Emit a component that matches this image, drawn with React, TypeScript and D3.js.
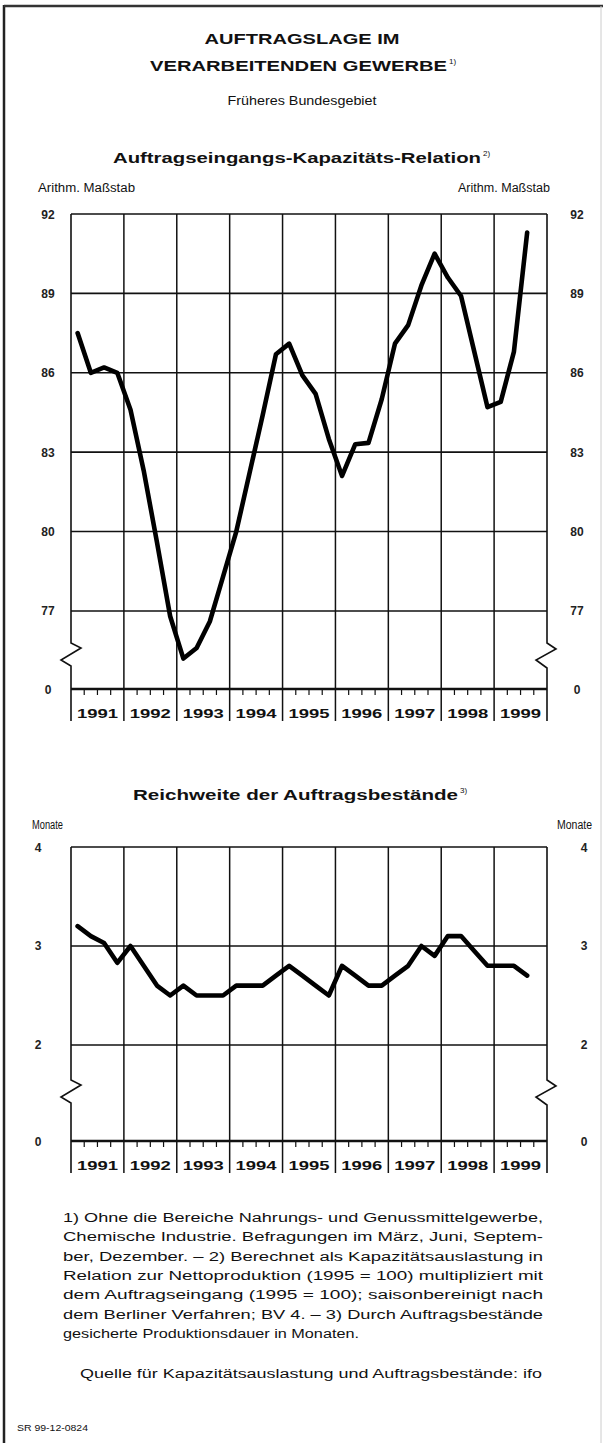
import * as d3 from "d3";

// quarterly values, 1991 Q1 .. 1999 Q3
const years = [1991, 1992, 1993, 1994, 1995, 1996, 1997, 1998, 1999];
const yearLabels = years.map(String);

const relation = [
  87.5, 86.0, 86.2, 86.0,
  84.6, 82.3, 79.6, 76.8,
  75.2, 75.6, 76.6, 78.3,
  80.0, 82.2, 84.4, 86.7,
  87.1, 85.9, 85.2, 83.5,
  82.1, 83.3, 83.35, 85.0,
  87.1, 87.8, 89.3, 90.5,
  89.6, 88.9, 86.8, 84.7,
  84.9, 86.8, 91.3,
];

const reichweite = [
  3.2, 3.1, 3.03, 2.83,
  3.0, 2.8, 2.6, 2.5,
  2.6, 2.5, 2.5, 2.5,
  2.6, 2.6, 2.6, 2.7,
  2.8, 2.7, 2.6, 2.5,
  2.8, 2.7, 2.6, 2.6,
  2.7, 2.8, 3.0, 2.9,
  3.1, 3.1, 2.95, 2.8,
  2.8, 2.8, 2.7,
];

const relationTicks = [92, 89, 86, 83, 80, 77];
const reichweiteTicks = [4, 3, 2];

const footnoteLines = [
  "1) Ohne die Bereiche Nahrungs- und Genussmittelgewerbe,",
  "Chemische Industrie. Befragungen im März, Juni, Septem-",
  "ber, Dezember. – 2) Berechnet als Kapazitätsauslastung in",
  "Relation zur Nettoproduktion (1995 = 100) multipliziert mit",
  "dem Auftragseingang (1995 = 100); saisonbereinigt nach",
  "dem Berliner Verfahren; BV 4. – 3) Durch Auftragsbestände",
  "gesicherte Produktionsdauer in Monaten.",
];

const FONT = "'Liberation Sans', Arial, Helvetica, sans-serif";
const INK = "#111";

const x = d3.scaleLinear().domain([1991, 2000]).range([71, 547]);
const qx = (i: number) => x(1991 + (i + 0.5) / 4);

interface PanelProps {
  values: number[];
  ticks: number[];
  y: d3.ScaleLinear<number, number>;
  breakY: number;
  labelLeftX: number;
  labelRightX: number;
}

const Panel = ({ values, ticks, y, breakY, labelLeftX, labelRightX }: PanelProps) => {
  const [x0, x1] = x.range();
  const axisY = y.range()[0];
  const topY = y.range()[1];
  const extY = axisY + 32;

  const line = d3
    .line<number>()
    .x((_, i) => qx(i))
    .y((d) => y(d));

  const leftBorder = `M${x0},${topY} L${x0},${breakY} L${x0 + 10},${breakY + 5} L${x0 - 10},${breakY + 17} L${x0},${breakY + 23} L${x0},${extY}`;
  const rightBorder = `M${x1},${topY} L${x1},${breakY} L${x1 + 9},${breakY + 6} L${x1 - 11},${breakY + 17} L${x1},${breakY + 25} L${x1},${extY}`;

  return (
    <g>
      {ticks.map((t) => (
        <line key={t} x1={x0} x2={x1} y1={y(t)} y2={y(t)} stroke={INK} strokeWidth={1.6} />
      ))}
      {years.slice(1).map((yr) => (
        <line key={yr} x1={x(yr)} x2={x(yr)} y1={topY} y2={extY} stroke={INK} strokeWidth={1.5} />
      ))}
      {years.map((yr) =>
        [1, 2, 3].map((q) => (
          <line
            key={`${yr}-${q}`}
            x1={x(yr + q / 4)}
            x2={x(yr + q / 4)}
            y1={axisY}
            y2={axisY + 6}
            stroke={INK}
            strokeWidth={1.2}
          />
        ))
      )}
      <path d={leftBorder} fill="none" stroke={INK} strokeWidth={1.6} />
      <path d={rightBorder} fill="none" stroke={INK} strokeWidth={1.6} />
      <line x1={x0} x2={x1} y1={axisY} y2={axisY} stroke={INK} strokeWidth={2.6} />
      {years.map((yr, i) => (
        <text
          key={yr}
          x={x(yr + 0.5)}
          y={axisY + 29}
          textAnchor="middle"
          fontFamily={FONT}
          fontWeight="bold"
          fontSize={13}
          textLength={41}
          lengthAdjust="spacingAndGlyphs"
          fill={INK}
        >
          {yearLabels[i]}
        </text>
      ))}
      {[...ticks, "0"].map((t) => {
        const ty = t === "0" ? axisY : y(t as number);
        return (
          <g key={String(t)} fontFamily={FONT} fontSize={12} fontWeight="bold" fill="#222">
            <text x={labelLeftX} y={ty + 4.5} textAnchor="middle">
              {String(t)}
            </text>
            <text x={labelRightX} y={ty + 4.5} textAnchor="middle">
              {String(t)}
            </text>
          </g>
        );
      })}
      <path
        d={line(values) ?? ""}
        fill="none"
        stroke="#000"
        strokeWidth={4.6}
        strokeLinejoin="round"
        strokeLinecap="round"
      />
    </g>
  );
};

const App = () => {
  const yTop = d3.scaleLinear().domain([74.05, 92]).range([689, 214]);
  const yBottom = d3.scaleLinear().domain([1.03, 4]).range([1141, 847]);

  return (
    <svg
      width={607}
      height={1443}
      style={{ position: "absolute", left: 0, top: 0, background: "#fff" }}
    >
      <rect x={0} y={0} width={607} height={1443} fill="#fff" />
      {/* frame */}
      <line x1={4} x2={4} y1={5} y2={1443} stroke="#222" strokeWidth={2.5} />
      <line x1={4} x2={603} y1={6} y2={6} stroke="#333" strokeWidth={2.5} />
      <line x1={601} x2={601} y1={6} y2={1443} stroke="#ccc" strokeWidth={1} />

      <g fontFamily={FONT} fill={INK}>
        <text x={302} y={44} textAnchor="middle" fontWeight="bold" fontSize={15} textLength={195} lengthAdjust="spacingAndGlyphs">
          AUFTRAGSLAGE IM
        </text>
        <text x={150} y={71} fontWeight="bold" fontSize={15} textLength={297} lengthAdjust="spacingAndGlyphs">
          VERARBEITENDEN GEWERBE
        </text>
        <text x={449} y={64} fontSize={8}>1)</text>
        <text x={302} y={105} textAnchor="middle" fontSize={13} textLength={149} lengthAdjust="spacingAndGlyphs">
          Früheres Bundesgebiet
        </text>
        <text x={113} y={163} fontWeight="bold" fontSize={14} textLength={368} lengthAdjust="spacingAndGlyphs">
          Auftragseingangs-Kapazitäts-Relation
        </text>
        <text x={483} y={156} fontSize={8}>2)</text>
        <text x={38} y={192} fontSize={12} textLength={97} lengthAdjust="spacingAndGlyphs">
          Arithm. Maßstab
        </text>
        <text x={550} y={192} textAnchor="end" fontSize={12} textLength={92} lengthAdjust="spacingAndGlyphs">
          Arithm. Maßstab
        </text>

        <text x={133} y={800} fontWeight="bold" fontSize={14} textLength={325} lengthAdjust="spacingAndGlyphs">
          Reichweite der Auftragsbestände
        </text>
        <text x={460} y={793} fontSize={8}>3)</text>
        <text x={32} y={829} fontSize={12} textLength={31} lengthAdjust="spacingAndGlyphs">
          Monate
        </text>
        <text x={592} y={829} textAnchor="end" fontSize={12} textLength={35} lengthAdjust="spacingAndGlyphs">
          Monate
        </text>
      </g>

      <Panel values={relation} ticks={relationTicks} y={yTop} breakY={643} labelLeftX={48} labelRightX={577} />
      <Panel values={reichweite} ticks={reichweiteTicks} y={yBottom} breakY={1080} labelLeftX={38} labelRightX={584} />

      <g fontFamily={FONT} fill={INK} fontSize={12.5}>
        {footnoteLines.map((l, i) => (
          <text
            key={i}
            x={63}
            y={1222 + i * 19.3}
            textLength={i < footnoteLines.length - 1 ? 480 : 296}
            lengthAdjust="spacingAndGlyphs"
          >
            {l}
          </text>
        ))}
        <text x={80} y={1378} textLength={462} lengthAdjust="spacingAndGlyphs">
          Quelle für Kapazitätsauslastung und Auftragsbestände: ifo
        </text>
        <text x={17} y={1431} fontSize={9} textLength={71} lengthAdjust="spacingAndGlyphs">
          SR 99-12-0824
        </text>
      </g>
    </svg>
  );
};

export default App;
